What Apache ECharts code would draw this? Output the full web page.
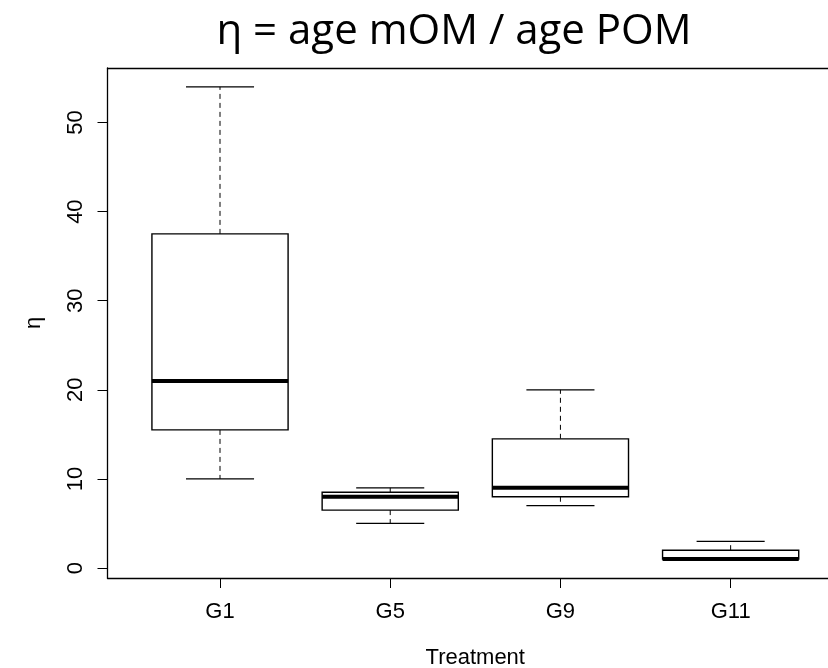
<!DOCTYPE html>
<html>
<head>
<meta charset="utf-8">
<script src="https://cdn.jsdelivr.net/npm/echarts@6/dist/echarts.min.js"></script>
<style>
  html, body { margin: 0; padding: 0; background: #fff; }
  #chart { width: 828px; height: 668px; }
</style>
</head>
<body>
<div id="chart"></div>
<script>
// Treatment groups and their five-number summaries
const categories = ['G1', 'G5', 'G9', 'G11'];
const lowerWhisker = [10, 5, 7, 1];
const lowerQuartile = [15.5, 6.5, 8, 1];
const medians = [21, 8, 9, 1];
const upperQuartile = [37.5, 8.5, 14.5, 2];
const upperWhisker = [54, 9, 20, 3];
const yTicks = [0, 10, 20, 30, 40, 50];
const xTicks = [1, 2, 3, 4];

const boxData = categories.map((c, i) => [
  i + 1, lowerWhisker[i], lowerQuartile[i], medians[i], upperQuartile[i], upperWhisker[i]
]);

// Draws one box: dashed whiskers, half-width staples, white box, heavy median
function renderBox(params, api) {
  const x = api.value(0);
  const lo = api.coord([x, api.value(1)]);
  const q1 = api.coord([x, api.value(2)]);
  const med = api.coord([x, api.value(3)]);
  const q3 = api.coord([x, api.value(4)]);
  const hi = api.coord([x, api.value(5)]);
  const boxW = api.size([0.8, 0])[0];
  const capW = boxW / 2;
  const cx = q1[0];
  const dashed = { stroke: '#000', lineWidth: 1, lineDash: [5, 4] };
  const solid = { stroke: '#000', lineWidth: 1.2 };
  return {
    type: 'group',
    children: [
      { type: 'line', shape: { x1: cx, y1: q3[1], x2: cx, y2: hi[1] }, style: dashed },
      { type: 'line', shape: { x1: cx, y1: q1[1], x2: cx, y2: lo[1] }, style: dashed },
      { type: 'line', shape: { x1: cx - capW / 2, y1: hi[1], x2: cx + capW / 2, y2: hi[1] }, style: solid },
      { type: 'line', shape: { x1: cx - capW / 2, y1: lo[1], x2: cx + capW / 2, y2: lo[1] }, style: solid },
      {
        type: 'rect',
        shape: { x: cx - boxW / 2, y: q3[1], width: boxW, height: q1[1] - q3[1] },
        style: { fill: '#fff', stroke: '#000', lineWidth: 1.4 }
      },
      {
        type: 'line',
        shape: { x1: cx - boxW / 2, y1: med[1], x2: cx + boxW / 2, y2: med[1] },
        style: { stroke: '#000', lineWidth: 4 }
      }
    ]
  };
}

const labelFont = { fontFamily: 'Liberation Sans', fontSize: 22, color: '#000' };
const frameLine = { lineStyle: { color: '#000', width: 1.3 }, onZero: false };

const chart = echarts.init(document.getElementById('chart'), null, { renderer: 'canvas' });
chart.setOption({
  animation: false,
  backgroundColor: '#fff',
  title: {
    text: 'η = age mOM / age POM',
    left: 449,
    top: 6,
    textAlign: 'center',
    textStyle: { fontFamily: 'Open Sans', fontSize: 42, fontWeight: 'normal', color: '#000' }
  },
  grid: { left: 107.5, top: 68, right: 0, height: 510, outerBoundsMode: 'none', containLabel: false },
  xAxis: [{
    type: 'value',
    min: 0.339, max: 4.572,
    name: 'Treatment',
    nameLocation: 'middle',
    nameGap: 69,
    nameTextStyle: Object.assign({ padding: [0, 0, 0, 15] }, labelFont),
    axisLine: Object.assign({ show: true }, frameLine),
    splitLine: { show: false },
    axisTick: { show: true, length: 10, customValues: xTicks, lineStyle: { color: '#000' } },
    axisLabel: Object.assign({
      customValues: xTicks,
      margin: 23,
      formatter: v => categories[Math.round(v) - 1] || ''
    }, labelFont)
  }, {
    type: 'value',
    position: 'top',
    min: 0.339, max: 4.572,
    axisLine: Object.assign({ show: true }, frameLine),
    splitLine: { show: false },
    axisTick: { show: false },
    axisLabel: { show: false }
  }],
  yAxis: {
    type: 'value',
    min: -1.12, max: 56.12,
    name: 'η',
    nameLocation: 'middle',
    nameGap: 63,
    nameRotate: 90,
    nameTextStyle: labelFont,
    axisLine: Object.assign({ show: true }, frameLine),
    splitLine: { show: false },
    axisTick: { show: true, length: 10, customValues: yTicks, lineStyle: { color: '#000' } },
    axisLabel: Object.assign({
      customValues: yTicks,
      rotate: 90,
      margin: 21
    }, labelFont)
  },
  series: [{
    type: 'custom',
    renderItem: renderBox,
    data: boxData,
    encode: { x: 0, y: [1, 2, 3, 4, 5] },
    clip: false
  }]
});
</script>
</body>
</html>
